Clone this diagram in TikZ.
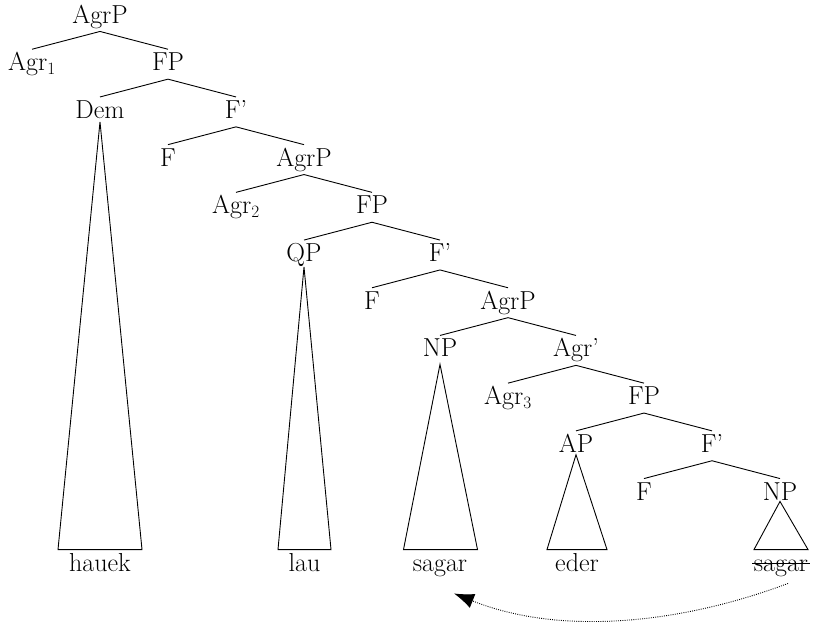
\documentclass[tikz,border=0pt]{standalone}
\usetikzlibrary{arrows.meta,calc}
\begin{document}
\begin{tikzpicture}[x=1pt,y=-1pt,line width=0.9pt,
  lbl/.style={anchor=base,font=\fontsize{26}{30}\selectfont,text height=18pt,text depth=5pt,inner ysep=3pt,inner xsep=1pt},
  br/.style={draw,line width=0.9pt},
  tri/.style={draw,line width=0.9pt,line join=miter}]
\useasboundingbox (0,0) rectangle (813,621);
\node[lbl] (a0) at (100,{23}) {AgrP};
\node[lbl] (agr1) at (32,{23+47.7}) {Agr$_1$};
\node[lbl] (fp1) at (168,{23+47.7}) {FP};
\node[lbl] (dem) at (100,{23+47.7*2}) {Dem};
\node[lbl] (fb1) at (236,{23+47.7*2}) {F’};
\node[lbl] (f1) at (168,{23+47.7*3}) {F};
\node[lbl] (a2) at (304,{23+47.7*3}) {AgrP};
\node[lbl] (agr2) at (236,{23+47.7*4}) {Agr$_2$};
\node[lbl] (fp2) at (372,{23+47.7*4}) {FP};
\node[lbl] (qp) at (304,{23+47.7*5}) {QP};
\node[lbl] (fb2) at (440,{23+47.7*5}) {F’};
\node[lbl] (f2) at (372,{23+47.7*6}) {F};
\node[lbl] (a3) at (508,{23+47.7*6}) {AgrP};
\node[lbl] (np1) at (440,{23+47.7*7}) {NP};
\node[lbl] (agrb) at (576,{23+47.7*7}) {Agr’};
\node[lbl] (agr3) at (508,{23+47.7*8}) {Agr$_3$};
\node[lbl] (fp3) at (644,{23+47.7*8}) {FP};
\node[lbl] (ap) at (576,{23+47.7*9}) {AP};
\node[lbl] (fb3) at (712,{23+47.7*9}) {F’};
\node[lbl] (f3) at (644,{23+47.7*10}) {F};
\node[lbl] (np2) at (780,{23+47.7*10}) {NP};
% leaves
\node[lbl] (l1) at (100,571) {hauek};
\node[lbl] (l2) at (304.5,571) {lau};
\node[lbl] (l3) at (440,571) {sagar};
\node[lbl] (l4) at (577,571) {eder};
\node[lbl] (l5) at (781,571) {sagar};
\draw ([yshift=8pt]l5.base west) -- ([yshift=8pt]l5.base east);
% branches
\foreach \p/\c in {a0/agr1,a0/fp1,fp1/dem,fp1/fb1,fb1/f1,fb1/a2,a2/agr2,a2/fp2,fp2/qp,fp2/fb2,fb2/f2,fb2/a3,a3/np1,a3/agrb,agrb/agr3,agrb/fp3,fp3/ap,fp3/fb3,fb3/f3,fb3/np2}
  \draw[br] (\p.south) -- (\c.north);
% triangles
\draw[tri] ([yshift=5pt]dem.south) -- ([xshift=-42pt]l1.north) -- ([xshift=42pt]l1.north) -- cycle;
\draw[tri] ([yshift=3pt]qp.south) -- ([xshift=-26.5pt]l2.north) -- ([xshift=26.5pt]l2.north) -- cycle;
\draw[tri] ([yshift=1pt]np1.south) -- ([xshift=-36.5pt]l3.north) -- ([xshift=37.5pt]l3.north) -- cycle;
\draw[tri] ([yshift=6pt]ap.south) -- ([xshift=-30pt]l4.north) -- ([xshift=30pt]l4.north) -- cycle;
\draw[tri] ([yshift=7pt]np2.south) -- ([xshift=-27pt]l5.north) -- ([xshift=27pt]l5.north) -- cycle;
% movement arrow
\coordinate (mvS) at ([xshift=7pt,yshift=-4pt]l5.south);
\coordinate (mvE) at ([xshift=14pt,yshift=-14pt]l3.south);
\draw[dash pattern=on 0.9pt off 1.3pt,line width=0.9pt,-{Latex[length=20pt,width=15pt]}] (mvS) .. controls (680,624) and (560,636) .. (mvE);
\end{tikzpicture}
\end{document}
